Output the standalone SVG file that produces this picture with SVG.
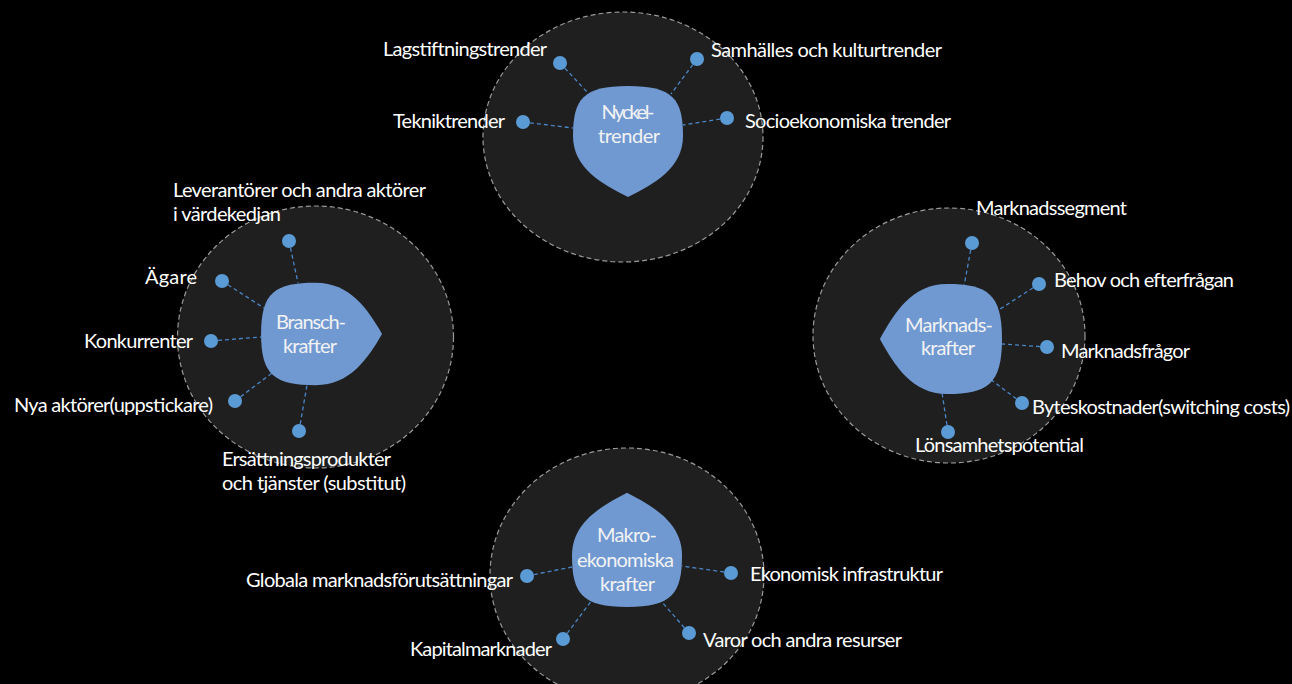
<svg xmlns="http://www.w3.org/2000/svg" xmlns:xlink="http://www.w3.org/1999/xlink" width="1292" height="684" viewBox="0 0 1292 684">
<style>
.bg{fill:#000}
.zone{fill:#1f1f1f;stroke:#9a9a9a;stroke-width:1.2;stroke-dasharray:5 3}
.drop{fill:#7099d2}
.dot{fill:#5b9bd5}
.con{stroke:#4a86c6;stroke-width:1.3;stroke-dasharray:4 3;fill:none}
.lbl{font-family:Lato,"Liberation Sans",sans-serif;font-size:20px;fill:#ffffff}
.in{font-family:Lato,"Liberation Sans",sans-serif;font-size:20px;fill:#f2f2f2;text-anchor:middle}
</style>
<defs>
<path id="drop" d="M 0 56 C -26 43 -55 27 -55 -5 C -55 -42 -45 -55 0 -55 C 45 -55 55 -42 55 -5 C 55 27 26 43 0 56 Z"/>
</defs>
<rect class="bg" x="0" y="0" width="1292" height="684"/>
<g id="zones">
<ellipse class="zone" cx="623" cy="137" rx="140" ry="125"/>
<ellipse class="zone" cx="315.5" cy="337" rx="138" ry="131"/>
<ellipse class="zone" cx="949" cy="335.5" rx="136" ry="127.5"/>
<ellipse class="zone" cx="627" cy="575" rx="137" ry="127"/>
</g>
<g id="connectors">
<line class="con" x1="560" y1="63" x2="588" y2="93"/>
<line class="con" x1="697" y1="59" x2="671" y2="94"/>
<line class="con" x1="523" y1="122" x2="573" y2="128"/>
<line class="con" x1="727" y1="118" x2="683" y2="125"/>
<line class="con" x1="289" y1="241" x2="298" y2="283"/>
<line class="con" x1="222" y1="281" x2="264" y2="308"/>
<line class="con" x1="211" y1="341" x2="261" y2="337"/>
<line class="con" x1="235" y1="401" x2="272" y2="373"/>
<line class="con" x1="299" y1="431" x2="307" y2="385"/>
<line class="con" x1="972" y1="243" x2="964" y2="286"/>
<line class="con" x1="1039" y1="284" x2="997" y2="311"/>
<line class="con" x1="1047" y1="347" x2="1002" y2="344"/>
<line class="con" x1="1022" y1="403" x2="990" y2="379"/>
<line class="con" x1="948" y1="432" x2="941" y2="386"/>
<line class="con" x1="527" y1="576" x2="572" y2="567"/>
<line class="con" x1="731" y1="573" x2="682" y2="566"/>
<line class="con" x1="563" y1="639" x2="592" y2="600"/>
<line class="con" x1="689" y1="633" x2="661" y2="601"/>
</g>
<g id="nyckeltrender">
<use xlink:href="#drop" class="drop" transform="translate(628,141)"/>
<text class="in" x="628" y="119" textLength="53">Nyckel-</text>
<text class="in" x="629" y="143" textLength="62">trender</text>
</g>
<g id="branschkrafter">
<use xlink:href="#drop" class="drop" transform="translate(321,334) rotate(-90) scale(0.93,1.09)"/>
<text class="in" x="311" y="329" textLength="70">Bransch-</text>
<text class="in" x="310" y="353" textLength="54">krafter</text>
</g>
<g id="marknadskrafter">
<use xlink:href="#drop" class="drop" transform="translate(941.5,339) rotate(90) scale(1,1.1)"/>
<text class="in" x="949" y="332" textLength="88">Marknads-</text>
<text class="in" x="948" y="355" textLength="54">krafter</text>
</g>
<g id="makroekonomiska-krafter">
<use xlink:href="#drop" class="drop" transform="translate(627,550.4) rotate(180) scale(1,1.03)"/>
<text class="in" x="627" y="542" textLength="60">Makro-</text>
<text class="in" x="625.5" y="567" textLength="97">ekonomiska</text>
<text class="in" x="627.5" y="591" textLength="55">krafter</text>
</g>
<g id="lagstiftningstrender"><circle class="dot" cx="560" cy="63" r="7"/><text class="lbl" x="383" y="56" textLength="164">Lagstiftningstrender</text></g>
<g id="samhalles-och-kulturtrender"><circle class="dot" cx="697" cy="59" r="7"/><text class="lbl" x="711" y="57" textLength="231">Samhälles och kulturtrender</text></g>
<g id="tekniktrender"><circle class="dot" cx="523" cy="122" r="7"/><text class="lbl" x="393" y="128" textLength="112">Tekniktrender</text></g>
<g id="socioekonomiska-trender"><circle class="dot" cx="727" cy="118" r="7"/><text class="lbl" x="745" y="128" textLength="206">Socioekonomiska trender</text></g>
<g id="leverantorer"><circle class="dot" cx="289" cy="241" r="7"/><text class="lbl" x="173" y="197" textLength="253">Leverantörer och andra aktörer</text><text class="lbl" x="173" y="221" textLength="108">i värdekedjan</text></g>
<g id="agare"><circle class="dot" cx="222" cy="281" r="7"/><text class="lbl" x="145" y="284" textLength="52">Ägare</text></g>
<g id="konkurrenter"><circle class="dot" cx="211" cy="341" r="7"/><text class="lbl" x="84" y="348" textLength="109">Konkurrenter</text></g>
<g id="nya-aktorer"><circle class="dot" cx="235" cy="401" r="7"/><text class="lbl" x="14" y="412" textLength="199">Nya aktörer(uppstickare)</text></g>
<g id="ersattningsprodukter"><circle class="dot" cx="299" cy="431" r="7"/><text class="lbl" x="222" y="466" textLength="169">Ersättningsprodukter</text><text class="lbl" x="222" y="490" textLength="184">och tjänster (substitut)</text></g>
<g id="marknadssegment"><circle class="dot" cx="972" cy="243" r="7"/><text class="lbl" x="976" y="215" textLength="151">Marknadssegment</text></g>
<g id="behov"><circle class="dot" cx="1039" cy="284" r="7"/><text class="lbl" x="1054" y="287" textLength="180">Behov och efterfrågan</text></g>
<g id="marknadsfragor"><circle class="dot" cx="1047" cy="347" r="7"/><text class="lbl" x="1061" y="358" textLength="129">Marknadsfrågor</text></g>
<g id="byteskostnader"><circle class="dot" cx="1022" cy="403" r="7"/><text class="lbl" x="1032" y="414" textLength="258">Byteskostnader(switching costs)</text></g>
<g id="lonsamhetspotential"><circle class="dot" cx="948" cy="432" r="7"/><text class="lbl" x="915" y="452" textLength="169">Lönsamhetspotential</text></g>
<g id="globala"><circle class="dot" cx="527" cy="576" r="7"/><text class="lbl" x="246" y="587" textLength="267">Globala marknadsförutsättningar</text></g>
<g id="ekonomisk-infrastruktur"><circle class="dot" cx="731" cy="573" r="7"/><text class="lbl" x="750" y="581" textLength="193">Ekonomisk infrastruktur</text></g>
<g id="kapitalmarknader"><circle class="dot" cx="563" cy="639" r="7"/><text class="lbl" x="410" y="656" textLength="142">Kapitalmarknader</text></g>
<g id="varor"><circle class="dot" cx="689" cy="633" r="7"/><text class="lbl" x="703" y="647" textLength="199">Varor och andra resurser</text></g>
</svg>
